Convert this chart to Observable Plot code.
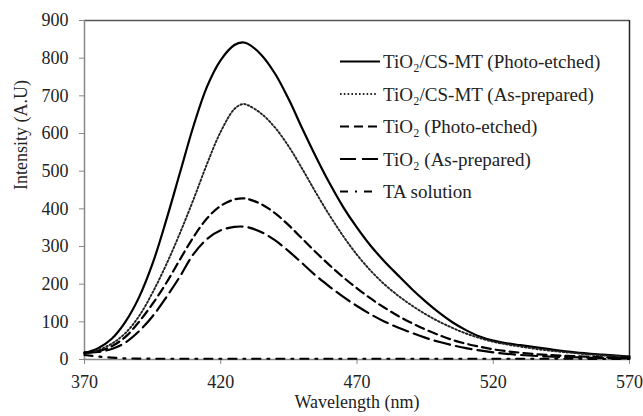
<!DOCTYPE html>
<html>
<head>
<meta charset="utf-8">
<script src="https://cdn.jsdelivr.net/npm/d3@7"></script>
<script src="https://cdn.jsdelivr.net/npm/@observablehq/plot@0.6"></script>
<style>
  html, body { margin: 0; padding: 0; background: #fff; }
  #chart { position: relative; width: 643px; height: 416px; }
</style>
</head>
<body>
<div id="chart"></div>
<script>
const wavelengths = [370,375,380,385,390,395,400,405,410,415,420,425,428,430,435,440,445,450,455,460,465,470,475,480,485,490,495,500,505,510,515,520,525,530,540,550,560,570];
const csmtEtched   = [17,30,55,100,165,255,370,495,620,725,795,835,842,838,808,758,690,612,537,467,404,350,302,261,224,188,155,125,99,78,61,50,43,38,28,19,13,8];
const csmtPrepared = [18,25,42,70,115,178,252,335,425,520,605,665,678,675,652,615,565,505,442,382,327,278,236,200,170,144,121,101,84,69,57,47,40,34,24,17,11,8];
const tio2Etched   = [18,22,35,60,100,148,203,265,325,375,408,425,428,426,412,388,356,320,284,250,218,189,162,138,116,97,80,65,52,42,34,27,22,18,12,9,6,5];
const tio2Prepared = [18,20,28,45,75,115,165,220,280,320,343,352,353,351,338,316,287,255,222,193,166,142,120,101,85,71,58,47,38,30,24,19,15,12,8,6,4,3];
const taSolution   = [12,8,5,3,2.5,2,2,2,2,2,2,2,2,2,2,2,2,2,2,2,2,2,2,2,2,2,2,2,2,2,2,2,2,2,2,2,1.5,1.5];

const seriesNames = ["TiO₂/CS-MT (Photo-etched)", "TiO₂/CS-MT (As-prepared)", "TiO₂ (Photo-etched)", "TiO₂ (As-prepared)", "TA solution"];
const seriesValues = [csmtEtched, csmtPrepared, tio2Etched, tio2Prepared, taSolution];
const seriesDash = [null, "1.6,2.2", "9,5", "16,6", "8,7,2,7"];
const seriesWidth = [2.2, 1.9, 2.2, 2.2, 2.2];

const xTicks = [370,420,470,520,570];
const yTicks = [0,100,200,300,400,500,600,700,800,900];

const data = [];
seriesNames.forEach((name, i) => {
  wavelengths.forEach((w, j) => data.push({series: name, idx: i, wavelength: w, intensity: seriesValues[i][j]}));
});

const font = "'Liberation Serif', 'Times New Roman', serif";

const lineMarks = seriesNames.map((name, i) =>
  Plot.line(data.filter(d => d.idx === i), {
    x: "wavelength", y: "intensity", curve: "catmull-rom",
    stroke: i === 1 ? "#222" : "#000", strokeWidth: seriesWidth[i],
    strokeDasharray: seriesDash[i] ?? undefined
  })
);

const chart = Plot.plot({
  width: 643, height: 416,
  marginLeft: 84, marginRight: 14, marginTop: 20, marginBottom: 57,
  style: {fontFamily: font, fontSize: "18px", color: "#222", background: "#fff"},
  x: {domain: [370, 570]},
  y: {domain: [0, 900]},
  marks: [
    Plot.ruleY([900], {stroke: "#555", strokeWidth: 1.5}),
    Plot.ruleX([570], {stroke: "#222", strokeWidth: 1.5}),
    Plot.axisX({ticks: xTicks, tickSize: 5, tickPadding: 11, stroke: "#888", label: null, fontSize: 18, fill: "#222"}),
    Plot.axisY({ticks: yTicks, tickSize: 5, tickPadding: 11, stroke: "#888", label: null, fontSize: 18, fill: "#222"}),
    Plot.ruleX([370], {stroke: "#888", strokeWidth: 1.5}),
    Plot.ruleY([0], {stroke: "#888", strokeWidth: 1.5}),
    ...lineMarks,
    Plot.text(["Wavelength (nm)"], {frameAnchor: "bottom", dy: 48, fontSize: 18, fill: "#222", text: d => d}),
    Plot.text(["Intensity (A.U)"], {frameAnchor: "left", dx: -63, rotate: -90, fontSize: 18, fill: "#222", text: d => d})
  ]
});

document.getElementById("chart").appendChild(chart);

// Legend drawn inside the plot area
const svg = d3.select(chart);
const lg = svg.append("g").attr("transform", "translate(340,61.5)");
const legendLen = [40, 38, 40, 40, 35];
seriesNames.forEach((name, i) => {
  const row = lg.append("g").attr("transform", `translate(0,${i * 32.5})`);
  row.append("line").attr("x1", 0).attr("x2", legendLen[i]).attr("y1", 0).attr("y2", 0)
    .attr("stroke", i === 1 ? "#222" : "#000").attr("stroke-width", seriesWidth[i])
    .attr("stroke-dasharray", seriesDash[i]);
  row.append("text").attr("x", 43).attr("y", 0).attr("dy", "0.35em")
    .attr("text-anchor", "start")
    .attr("font-family", font).attr("font-size", 19).attr("fill", "#222")
    .text(name);
});
</script>
</body>
</html>
